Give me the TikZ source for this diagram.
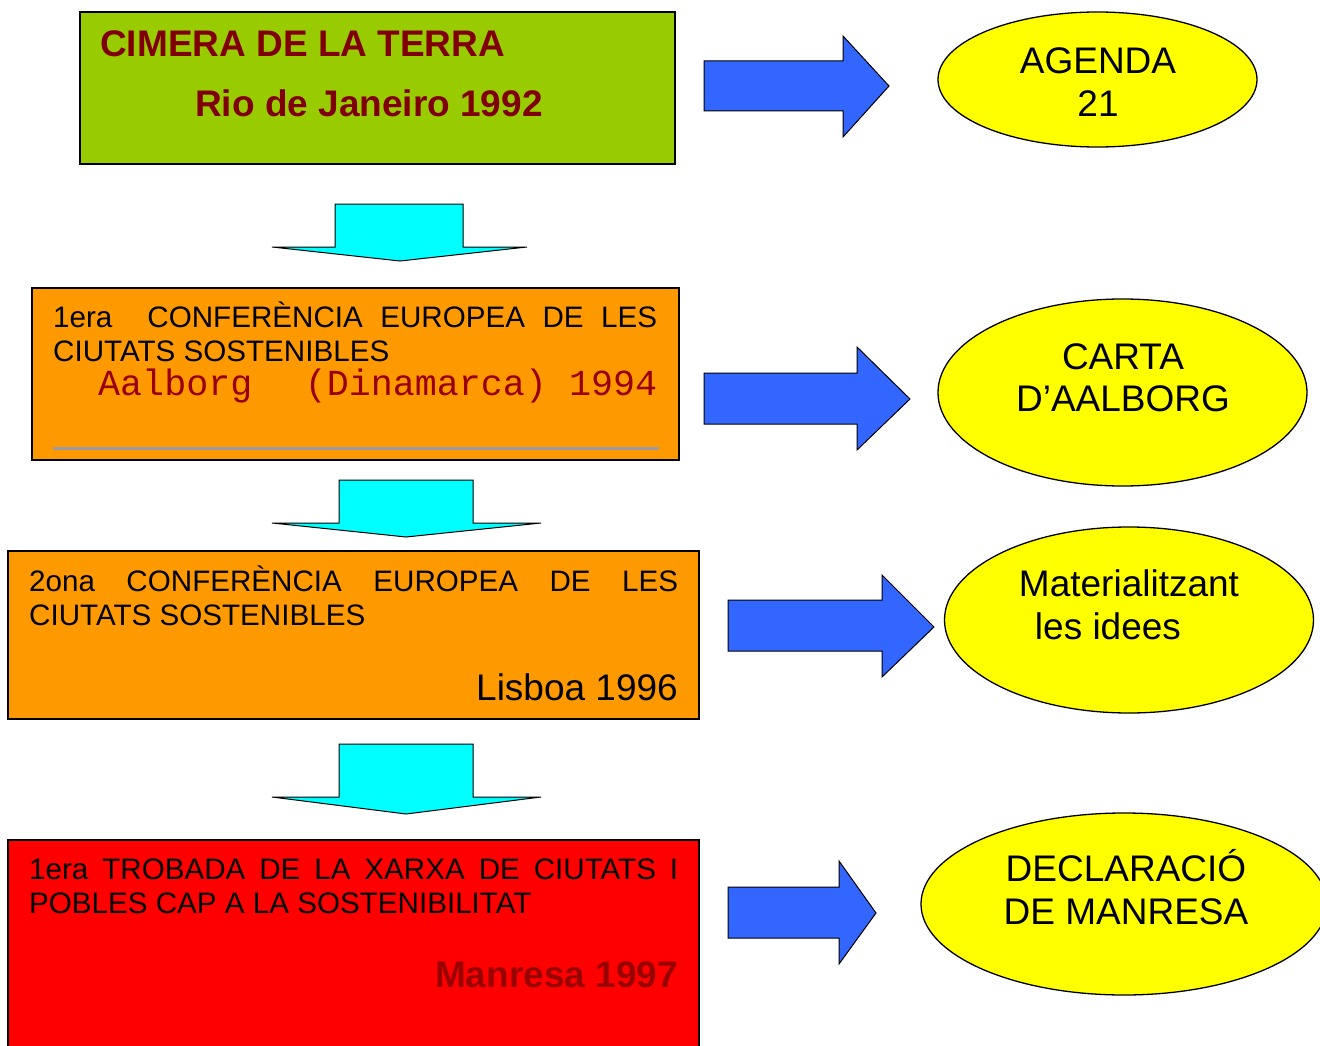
\documentclass[tikz,border=0pt]{standalone}
\usepackage{fontspec}
\setmainfont{Liberation Sans}
\setmonofont{Liberation Mono}
\usetikzlibrary{fit,shapes.geometric}
\definecolor{leafgreen}{HTML}{99CC00}
\definecolor{confOrange}{HTML}{FF9900}
\definecolor{meetRed}{HTML}{FF0000}
\definecolor{darkMaroon}{HTML}{800000}
\definecolor{placeRed}{HTML}{990000}
\definecolor{downCyan}{HTML}{00FFFF}
\definecolor{rightBlue}{HTML}{3366FF}
\definecolor{bubbleYellow}{HTML}{FFFF00}
\definecolor{ruleGray}{HTML}{9A9AA6}
\tikzset{
  box/.style={draw=black, line width=1.5pt, inner sep=0pt},
  bubble/.style={ellipse, draw=black, line width=1.3pt, fill=bubbleYellow},
  bubbletext/.style={align=center, inner sep=0pt, font=\fontsize{37}{42.5}\selectfont},
  darrow/.style={draw=black, line width=1pt, fill=downCyan},
  rarrow/.style={draw=black, line width=1pt, fill=rightBlue},
  body/.style={anchor=base west, inner sep=0pt, font=\fontsize{29.6}{34}\selectfont},
  big/.style={inner sep=0pt, font=\fontsize{37}{43}\selectfont},
  bigbold/.style={inner sep=0pt, font=\fontsize{37}{43}\selectfont\bfseries},
  mono/.style={anchor=base west, inner sep=0pt, font=\fontsize{36.7}{40}\ttfamily}
}
\begin{document}
\begin{tikzpicture}[x=1pt,y=-1pt]
  \useasboundingbox (0,0) rectangle (1320,1046);
  \clip (0,0) rectangle (1320,1046);

  % left column: the four meetings
  \node[box, fill=leafgreen, fit={(80,12) (675,164)}] (cimera) {};
  \node[bigbold, anchor=base west, text=darkMaroon] (cimeratitle) at (100,57) {CIMERA DE LA TERRA};
  \node[bigbold, anchor=base west, text=darkMaroon] (cimeraplace) at (195,117) {Rio de Janeiro 1992};

  \node[box, fill=confOrange, fit={(32,288) (679,460)}] (aalborg) {};
  \node[body] (aalborgtitle) at (53,327) {\makebox[604pt][s]{1era\ \ CONFERÈNCIA EUROPEA DE LES}};
  \node[body] (aalborgcities) at (53,361) {CIUTATS SOSTENIBLES};
  \node[mono, text=placeRed] (aalborgplace) at (98,395) {\makebox[559pt]{Aalborg\hfill(Dinamarca)\ 1994}};
  \draw[ruleGray, line width=3pt] (53,448) -- (659,448);

  \node[box, fill=confOrange, fit={(8,551) (699,719)}] (lisboa) {};
  \node[body] (lisboatitle) at (29,591) {\makebox[649pt][s]{2ona CONFERÈNCIA EUROPEA DE LES}};
  \node[body] (lisboacities) at (29,625) {CIUTATS SOSTENIBLES};
  \node[big, anchor=base east] (lisboaplace) at (678,700) {Lisboa 1996};

  \node[box, fill=meetRed, fit={(8,840) (699,1070)}] (manresa) {};
  \node[body] (manresatitle) at (29,879) {\makebox[649pt][s]{1era TROBADA DE LA XARXA DE CIUTATS I}};
  \node[body] (manresanet) at (29,913) {POBLES CAP A LA SOSTENIBILITAT};
  \node[bigbold, anchor=base east, text=placeRed] (manresaplace) at (678,987) {Manresa 1997};

  % down arrows
  \draw[darrow] (335,204) -- (463,204) -- (463,247) -- (527,247) -- (400,261) -- (272,247) -- (335,247) -- cycle;
  \draw[darrow] (339,480) -- (473,480) -- (473,523) -- (541,523) -- (406,537) -- (272,523) -- (339,523) -- cycle;
  \draw[darrow] (339,744) -- (473,744) -- (473,797) -- (541,797) -- (406,814) -- (272,797) -- (339,797) -- cycle;

  % right arrows
  \draw[rarrow] (704,61) -- (843,61) -- (843,36) -- (889,86) -- (843,137) -- (843,111) -- (704,111) -- cycle;
  \draw[rarrow] (704,373) -- (857,373) -- (857,347) -- (910,399) -- (857,450) -- (857,424) -- (704,424) -- cycle;
  \draw[rarrow] (728,600) -- (882,600) -- (882,575) -- (934,627) -- (882,677) -- (882,651) -- (728,651) -- cycle;
  \draw[rarrow] (728,887) -- (839,887) -- (839,861) -- (876,913) -- (839,964) -- (839,938) -- (728,938) -- cycle;

  % right column: the outcomes
  \node[bubble, minimum width=319pt, minimum height=135pt] (agenda) at (1097.5,79.5) {};
  \node[bubbletext] (agendatext) at (1098,82) {AGENDA\\21};
  \node[bubble, minimum width=369pt, minimum height=187pt] (carta) at (1122.5,392.5) {};
  \node[bubbletext] (cartatext) at (1123,378) {CARTA\\D’AALBORG};
  \node[bubble, minimum width=369pt, minimum height=186pt] (ideas) at (1129,620) {};
  \node[bubbletext] (ideastext) at (1129,605) {Materialitzant\\les idees\hspace*{42pt}};
  \node[bubble, minimum width=406pt, minimum height=182pt] (declaracio) at (1124,904) {};
  \node[bubbletext] (declaraciotext) at (1126,887) {DECLARACIÓ\\DE MANRESA};
\end{tikzpicture}
\end{document}
